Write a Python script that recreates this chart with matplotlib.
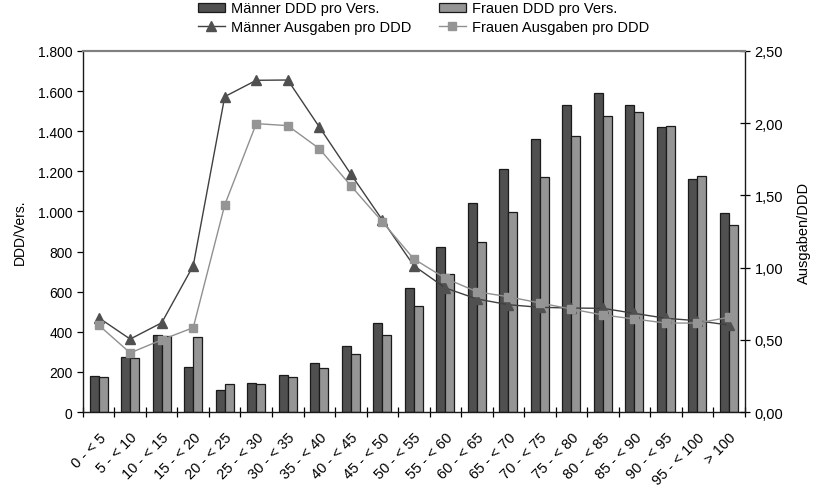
import matplotlib
matplotlib.use("Agg")
import matplotlib.pyplot as plt
import matplotlib.transforms as mtransforms
import numpy as np
from matplotlib.ticker import FuncFormatter, FixedLocator

plt.rcParams['font.family'] = ['Liberation Sans', 'DejaVu Sans']

categories = ["0 - < 5", "5 - < 10", "10 - < 15", "15 - < 20", "20 - < 25", "25 - < 30",
              "30 - < 35", "35 - < 40", "40 - < 45", "45 - < 50", "50 - < 55", "55 - < 60",
              "60 - < 65", "65 - < 70", "70 - < 75", "75 - < 80", "80 - < 85", "85 - < 90",
              "90 - < 95", "95 - < 100", "> 100"]
maenner_ddd = [178, 276, 384, 224, 108, 143, 186, 243, 327, 445, 617, 824,
               1040, 1211, 1359, 1529, 1590, 1532, 1422, 1160, 992]
frauen_ddd = [175, 271, 377, 372, 138, 138, 173, 221, 288, 385, 527, 688,
              846, 997, 1171, 1374, 1474, 1494, 1424, 1176, 932]
maenner_ausg = [0.653, 0.505, 0.618, 1.013, 2.184, 2.297, 2.299, 1.974, 1.648, 1.33, 1.013,
                0.859, 0.783, 0.743, 0.725, 0.72, 0.718, 0.683, 0.649, 0.632, 0.602]
frauen_ausg = [0.602, 0.409, 0.50, 0.584, 1.434, 1.997, 1.983, 1.824, 1.567, 1.318, 1.06,
               0.926, 0.833, 0.798, 0.755, 0.713, 0.672, 0.644, 0.616, 0.616, 0.656]

fig = plt.figure(figsize=(8.13, 4.89), dpi=100)
ax = fig.add_axes([0.102, 0.1554, 0.814, 0.7383])
ax2 = ax.twinx()

x = np.arange(len(categories))
w = 0.285
b1 = ax.bar(x - w / 2, maenner_ddd, w, color='#505050', edgecolor='#1a1a1a', linewidth=0.9,
            label='Männer DDD pro Vers.')
b2 = ax.bar(x + w / 2, frauen_ddd, w, color='#959595', edgecolor='#1a1a1a', linewidth=0.9,
            label='Frauen DDD pro Vers.')

l1, = ax2.plot(x, maenner_ausg, color='#404040', linewidth=1.0, marker='^', markersize=6.5,
               markerfacecolor='#505050', markeredgecolor='#505050', label='Männer Ausgaben pro DDD')
l2, = ax2.plot(x, frauen_ausg, color='#909090', linewidth=1.0, marker='s', markersize=6,
               markerfacecolor='#959595', markeredgecolor='#959595', label='Frauen Ausgaben pro DDD')

ax.set_xlim(-0.5, len(categories) - 0.5)
ax.set_ylim(0, 1800)
ax2.set_ylim(0, 2.5)

ax.set_yticks(np.arange(0, 1801, 200))
ax.yaxis.set_major_formatter(FuncFormatter(lambda v, p: f"{int(v):,}".replace(",", ".")))
ax2.set_yticks(np.arange(0, 2.51, 0.5))
ax2.yaxis.set_major_formatter(FuncFormatter(lambda v, p: f"{v:.2f}".replace(".", ",")))

ax.xaxis.set_major_locator(FixedLocator(np.arange(-0.5, len(categories), 1.0)))
ax.set_xticklabels([''] * len(ax.get_xticks()))
ax.set_xticks(x, minor=True)
ax.set_xticklabels(categories, minor=True, rotation=45, ha='right', va='top',
                   rotation_mode='anchor', fontsize=10.5)
offset = mtransforms.ScaledTranslation(-4 / 100, 0, fig.dpi_scale_trans)
for lab in ax.xaxis.get_minorticklabels():
    lab.set_transform(lab.get_transform() + offset)
ax.tick_params(axis='x', which='major', direction='inout', length=7, width=0.9)
ax.tick_params(axis='x', which='minor', length=0, pad=13)
ax.tick_params(axis='y', direction='out', length=4, width=0.9, labelsize=10)
ax2.tick_params(axis='y', direction='inout', length=7, width=0.9, labelsize=10.5)

for s in ['left', 'bottom']:
    ax.spines[s].set_color('#1a1a1a')
    ax.spines[s].set_linewidth(1.0)
ax.spines['top'].set_color('#808080')
ax.spines['top'].set_linewidth(1.5)
ax.spines['right'].set_visible(False)
ax2.spines['left'].set_visible(False)
ax2.spines['bottom'].set_visible(False)
ax2.spines['top'].set_color('#808080')
ax2.spines['top'].set_linewidth(1.5)
ax2.spines['right'].set_color('#1a1a1a')
ax2.spines['right'].set_linewidth(1.0)

ax.set_ylabel('DDD/Vers.', fontsize=10, labelpad=8)
ax2.set_ylabel('Ausgaben/DDD', fontsize=10.5, labelpad=10)

handles = [b1, l1, b2, l2]
labels = [h.get_label() for h in handles]
fig.legend(handles, labels, ncol=2, loc='upper left', bbox_to_anchor=(0.2435, 0.995),
           frameon=False, fontsize=10.5, handlelength=1.85, handleheight=0.55,
           handletextpad=0.4, columnspacing=1.9, labelspacing=0.3,
           borderaxespad=0, borderpad=0)

fig.savefig('out.png', dpi=100)
